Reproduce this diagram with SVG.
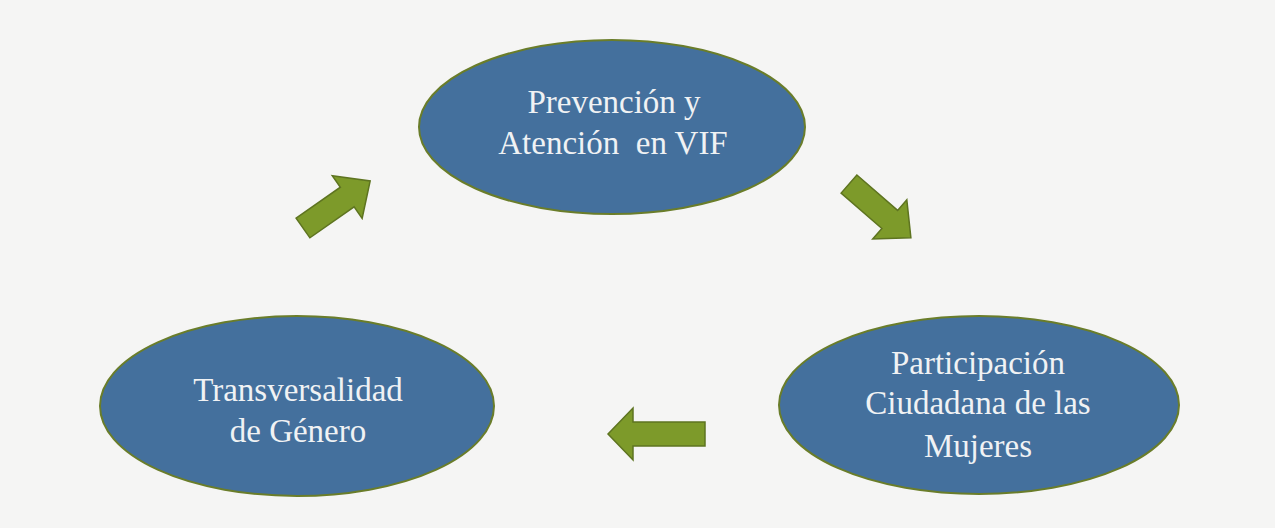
<svg xmlns="http://www.w3.org/2000/svg" width="1275" height="528" viewBox="0 0 1275 528">
<style>
.node ellipse{fill:#44709d;stroke:#6a7d2a;stroke-width:2}
.node text{font-family:"Liberation Serif","DejaVu Serif",serif;font-size:33px;fill:#f0f2f4;text-anchor:middle;white-space:pre}
.arrow{fill:#7d9a2a;stroke:#5e7420;stroke-width:1.5;stroke-linejoin:miter}
</style>
<rect x="0" y="0" width="1275" height="528" fill="#f5f5f4"/>
<g id="connectors">
<path class="arrow" transform="translate(303,228) rotate(-35)" d="M0,-12 L54,-12 L54,-26 L82,0 L54,26 L54,12 L0,12 Z"/>
<path class="arrow" transform="translate(849,184) rotate(41)" d="M0,-12 L54,-12 L54,-26 L82,0 L54,26 L54,12 L0,12 Z"/>
<path class="arrow" transform="translate(705,434) rotate(180)" d="M0,-12 L72,-12 L72,-26 L97,0 L72,26 L72,12 L0,12 Z"/>
</g>
<g id="node-prevencion" class="node">
<ellipse cx="612" cy="127" rx="193" ry="87"/>
<text x="614" y="113">Prevención y</text>
<text x="613" y="154" xml:space="preserve">Atención  en VIF</text>
</g>
<g id="node-participacion" class="node">
<ellipse cx="979" cy="405" rx="200" ry="89"/>
<text x="978" y="374">Participación</text>
<text x="978" y="414">Ciudadana de las</text>
<text x="978" y="457">Mujeres</text>
</g>
<g id="node-transversalidad" class="node">
<ellipse cx="297" cy="406" rx="197" ry="90"/>
<text x="298" y="401">Transversalidad</text>
<text x="298" y="442">de Género</text>
</g>
</svg>
